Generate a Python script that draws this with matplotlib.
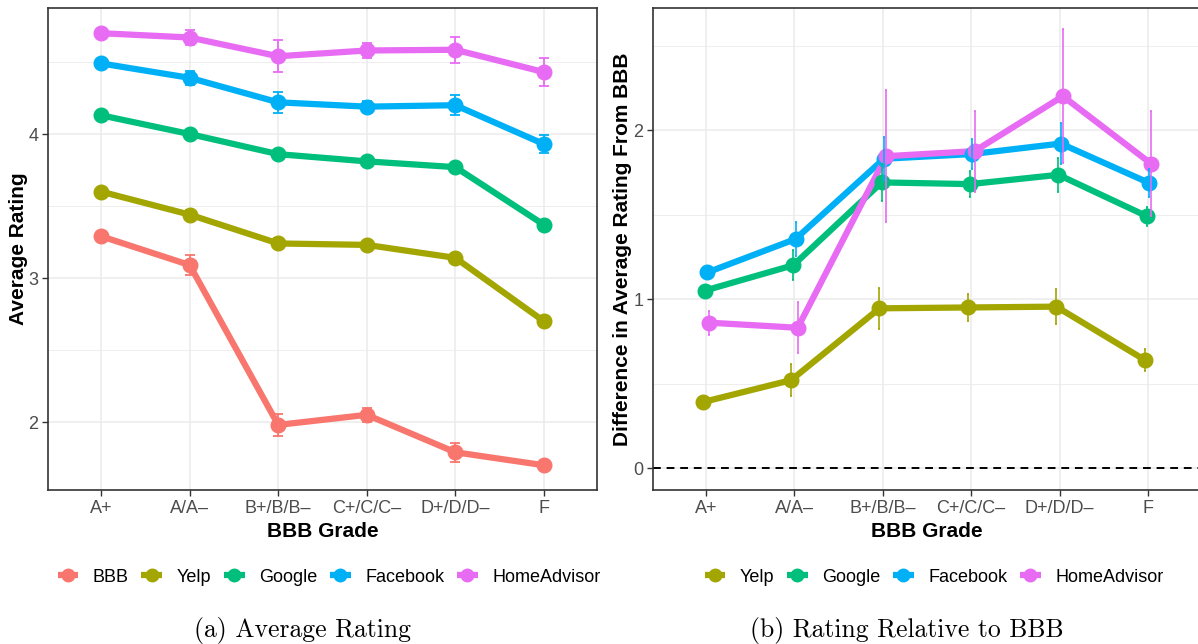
import numpy as np
import matplotlib
matplotlib.use("Agg")
import matplotlib.pyplot as plt
from matplotlib.lines import Line2D

plt.rcParams['font.family'] = ['Liberation Sans', 'DejaVu Sans']

grades = ["A+", "A/A\u2013", "B+/B/B\u2013", "C+/C/C\u2013", "D+/D/D\u2013", "F"]

# (a) average rating by platform
avg_names = ["BBB", "Yelp", "Google", "Facebook", "HomeAdvisor"]
avg_bbb = [3.29, 3.09, 1.98, 2.05, 1.79, 1.70]
avg_yelp = [3.60, 3.44, 3.24, 3.23, 3.14, 2.70]
avg_google = [4.13, 4.00, 3.86, 3.81, 3.77, 3.37]
avg_facebook = [4.49, 4.39, 4.22, 4.19, 4.20, 3.93]
avg_homeadvisor = [4.70, 4.67, 4.54, 4.58, 4.585, 4.43]
err_bbb = [0.01, 0.07, 0.075, 0.05, 0.065, 0.012]
err_yelp = [0.012, 0.03, 0.035, 0.015, 0.025, 0.025]
err_google = [0.01, 0.01, 0.012, 0.01, 0.012, 0.012]
err_facebook = [0.01, 0.05, 0.075, 0.04, 0.07, 0.065]
err_homeadvisor = [0.012, 0.05, 0.11, 0.05, 0.09, 0.095]

# (b) difference from BBB
diff_names = ["Yelp", "Google", "Facebook", "HomeAdvisor"]
diff_yelp = [0.39, 0.52, 0.945, 0.95, 0.955, 0.64]
diff_google = [1.05, 1.20, 1.69, 1.68, 1.735, 1.49]
diff_facebook = [1.157, 1.355, 1.83, 1.858, 1.92, 1.687]
diff_homeadvisor = [0.86, 0.83, 1.845, 1.875, 2.20, 1.80]
derr_yelp = [0.02, 0.095, 0.12, 0.08, 0.105, 0.065]
derr_google = [0.02, 0.09, 0.11, 0.075, 0.10, 0.055]
derr_facebook = [0.03, 0.10, 0.13, 0.09, 0.12, 0.085]
derr_homeadvisor = [0.07, 0.15, 0.39, 0.24, 0.395, 0.31]

colors = {"BBB": "#F8766D", "Yelp": "#A3A500", "Google": "#00BF7D",
          "Facebook": "#00B0F6", "HomeAdvisor": "#E76BF3"}

W, H = 1198, 644
fig = plt.figure(figsize=(W / 100, H / 100), dpi=100)


def style_axes(ax, ylim, major, minor):
    ax.set_xlim(-0.6, 5.6)
    ax.set_ylim(*ylim)
    ax.set_xticks(range(len(grades)))
    ax.set_xticklabels(grades)
    ax.set_yticks(major)
    ax.set_yticks(minor, minor=True)
    ax.grid(True, which="major", color="#EBEBEB", lw=1.1, zorder=0)
    ax.grid(True, which="minor", axis="y", color="#EBEBEB", lw=0.6, zorder=0)
    ax.set_axisbelow(True)
    for s in ax.spines.values():
        s.set_color("#333333")
        s.set_linewidth(1.2)
    ax.tick_params(axis="both", which="major", colors="#333333", length=4,
                   width=1.0, labelsize=13, labelcolor="#4D4D4D", pad=3)
    ax.tick_params(axis="y", which="minor", length=0)


def draw(ax, xs_off, vals, errs, names, capsize, elw):
    for name, off, v in zip(names, xs_off, vals):
        ax.plot(np.arange(6) + off, v, color=colors[name], lw=4.5,
                solid_capstyle="round", zorder=3)
    for name, off, v in zip(names, xs_off, vals):
        ax.plot(np.arange(6) + off, v, "o", color=colors[name], ms=10.5, zorder=4)
    for name, off, v, e in zip(names, xs_off, vals, errs):
        ax.errorbar(np.arange(6) + off, v, yerr=e, fmt="none", ecolor=colors[name],
                    elinewidth=elw, capsize=capsize, capthick=elw, zorder=5)


# ---- panel (a)
ax1 = fig.add_axes([48 / W, 1 - 490 / H, (597 - 48) / W, (490 - 8) / H])
style_axes(ax1, (1.528, 4.875), [2, 3, 4], [2.5, 3.5, 4.5])
draw(ax1, [0] * 5,
     [avg_bbb, avg_yelp, avg_google, avg_facebook, avg_homeadvisor],
     [err_bbb, err_yelp, err_google, err_facebook, err_homeadvisor],
     avg_names, 3.8, 1.3)
ax1.set_xlabel("BBB Grade", fontsize=15, fontweight="bold", labelpad=4)
ax1.set_ylabel("Average Rating", fontsize=15, fontweight="bold", labelpad=0)

# ---- panel (b)
ax2 = fig.add_axes([653 / W, 1 - 490 / H, (1201 - 653) / W, (490 - 8) / H])
style_axes(ax2, (-0.13, 2.722), [0, 1, 2], [0.5, 1.5, 2.5])
ax2.axhline(0, color="black", lw=1.4, ls=(0, (4, 3)), zorder=2)
offs = [-0.0375, -0.0125, 0.0125, 0.0375]
draw(ax2, offs,
     [diff_yelp, diff_google, diff_facebook, diff_homeadvisor],
     [derr_yelp, derr_google, derr_facebook, derr_homeadvisor],
     diff_names, 1.0, 1.2)
ax2.set_xlabel("BBB Grade", fontsize=15, fontweight="bold", labelpad=4)
ax2.set_ylabel("Difference in Average Rating From BBB", fontsize=15,
               fontweight="bold", labelpad=1)


def legend(names, xc):
    handles = [Line2D([], [], color=colors[n], lw=4.5, marker="o", ms=9,
                      solid_capstyle="butt")
               for n in names]
    fig.legend(handles, names, loc="center", bbox_to_anchor=(xc / W, 1 - 577 / H),
               ncol=len(names), frameon=False, fontsize=13, handlelength=1.15,
               handletextpad=0.8, columnspacing=0.7)


legend(avg_names, 329)
legend(diff_names, 934)

fig.text(302 / W, 1 - 630 / H, "(a) Average Rating", family="cmr10",
         fontsize=18.5, ha="center", va="center")
fig.text(907 / W, 1 - 630 / H, "(b) Rating Relative to BBB", family="cmr10",
         fontsize=18.5, ha="center", va="center")

fig.savefig("out.png", dpi=100)
